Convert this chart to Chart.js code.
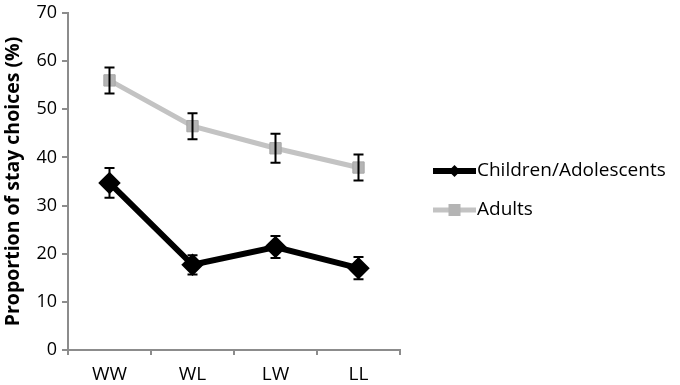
<!DOCTYPE html>
<html>
<head>
<meta charset="utf-8">
<script src="https://cdn.jsdelivr.net/npm/chart.js@4"></script>
<style>
  html, body { margin: 0; padding: 0; background: #fff; }
  #wrap { width: 680px; height: 385px; }
</style>
</head>
<body>
<div id="wrap"><canvas id="chart" width="680" height="385"></canvas></div>
<script>
const conditions = ["WW", "WL", "LW", "LL"];
const childMeans = [34.7, 17.7, 21.4, 17.0];
const childErr = [3.1, 2.0, 2.3, 2.3];
const adultMeans = [56.0, 46.5, 41.9, 37.9];
const adultErr = [2.7, 2.7, 3.0, 2.7];
const yTicks = [0, 10, 20, 30, 40, 50, 60, 70];

const FONT = "'Open Sans', 'Noto Sans', sans-serif";

// error bars drawn from the y scale
const errorBars = {
  id: "errorBars",
  afterDatasetsDraw(chart) {
    const ctx = chart.ctx;
    const y = chart.scales.y;
    chart.data.datasets.forEach((ds, i) => {
      const meta = chart.getDatasetMeta(i);
      meta.data.forEach((pt, j) => {
        const v = ds.data[j], e = ds.errors[j];
        const top = y.getPixelForValue(v + e);
        const bot = y.getPixelForValue(v - e);
        ctx.save();
        ctx.strokeStyle = "#000";
        ctx.lineWidth = 2;
        ctx.beginPath();
        ctx.moveTo(pt.x, top); ctx.lineTo(pt.x, bot);
        ctx.moveTo(pt.x - 5, top); ctx.lineTo(pt.x + 5, top);
        ctx.moveTo(pt.x - 5, bot); ctx.lineTo(pt.x + 5, bot);
        ctx.stroke();
        ctx.restore();
      });
    });
  }
};

// legend with line + marker, to the right of the plot
const sideLegend = {
  id: "sideLegend",
  afterDraw(chart) {
    const ctx = chart.ctx;
    const x0 = 433, x1 = 476;
    const rows = [171, 210];
    chart.data.datasets.forEach((ds, i) => {
      const yy = rows[i];
      ctx.save();
      ctx.strokeStyle = ds.borderColor;
      ctx.lineWidth = ds.borderWidth;
      ctx.beginPath();
      ctx.moveTo(x0, yy); ctx.lineTo(x1, yy);
      ctx.stroke();
      ctx.fillStyle = ds.pointBackgroundColor;
      const cx = (x0 + x1) / 2;
      if (ds.pointStyle === "rectRot") {
        ctx.beginPath();
        ctx.moveTo(cx, yy - 6); ctx.lineTo(cx + 6, yy);
        ctx.lineTo(cx, yy + 6); ctx.lineTo(cx - 6, yy);
        ctx.closePath(); ctx.fill();
      } else {
        ctx.fillRect(cx - 6, yy - 6, 12, 12);
      }
      ctx.fillStyle = "#000";
      ctx.font = "19px " + FONT;
      ctx.textBaseline = "middle";
      ctx.fillText(ds.label, x1 + 1, yy);
      ctx.restore();
    });
  }
};

new Chart(document.getElementById("chart"), {
  type: "line",
  data: {
    labels: conditions,
    datasets: [
      {
        label: "Children/Adolescents",
        data: childMeans,
        errors: childErr,
        borderColor: "#000",
        borderWidth: 6,
        pointStyle: "rectRot",
        pointRadius: 7,
        pointBackgroundColor: "#000",
        pointBorderColor: "#000",
        tension: 0
      },
      {
        label: "Adults",
        data: adultMeans,
        errors: adultErr,
        borderColor: "#c3c3c3",
        borderWidth: 5,
        pointStyle: "rect",
        pointRadius: 8,
        pointBackgroundColor: "#b4b4b4",
        pointBorderColor: "#a8a8a8",
        pointBorderWidth: 1,
        tension: 0
      }
    ]
  },
  options: {
    responsive: false,
    animation: false,
    layout: { padding: { top: 0, right: 280, left: 0, bottom: 0 } },
    plugins: { legend: { display: false }, tooltip: { enabled: false } },
    scales: {
      x: {
        offset: true,
        grid: { offset: true, drawOnChartArea: false, color: "#8c8c8c", tickLength: 5, lineWidth: 2 },
        border: { color: "#8c8c8c", width: 2 },
        ticks: { color: "#000", font: { family: FONT, size: 19 }, padding: 8 },
        afterFit(s) { s.height = 35; }
      },
      y: {
        min: 0,
        max: 70,
        afterBuildTicks(s) { s.ticks = yTicks.map(v => ({ value: v })); },
        grid: { drawOnChartArea: false, color: "#8c8c8c", tickLength: 6, lineWidth: 2 },
        border: { color: "#8c8c8c", width: 2 },
        ticks: { color: "#000", font: { family: FONT, size: 18 }, padding: 5 },
        title: {
          display: true,
          text: "Proportion of stay choices (%)",
          color: "#000",
          font: { family: FONT, size: 19.5, weight: "bold" },
          padding: { top: 2, bottom: 0 }
        },
        afterFit(s) { s.width = 68; s.paddingTop = 10; }
      }
    }
  },
  plugins: [errorBars, sideLegend]
});
</script>
</body>
</html>
